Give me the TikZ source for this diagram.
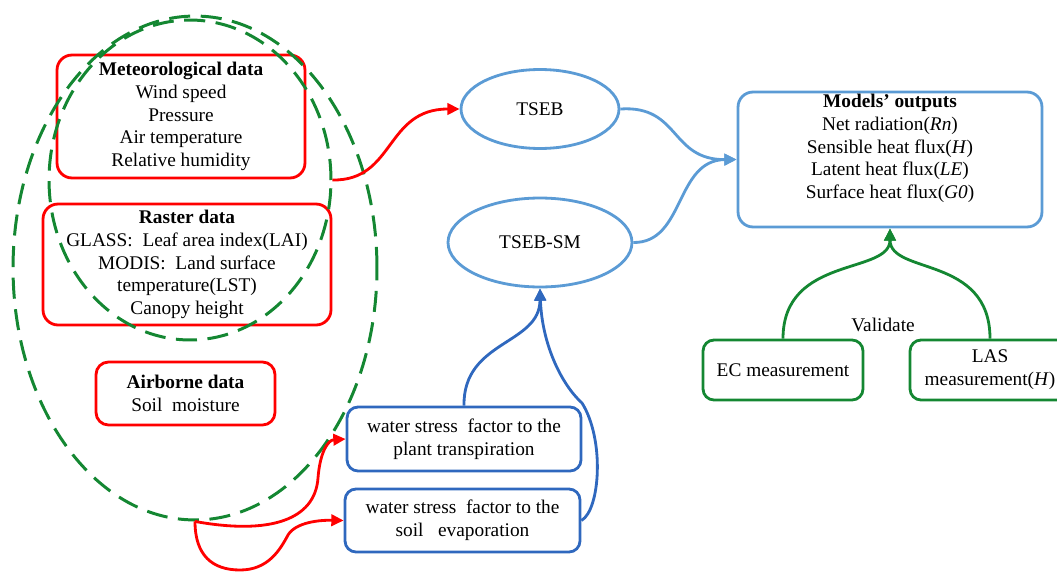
\documentclass[tikz,border=0pt]{standalone}
\usepackage{fontspec}
\setmainfont{Liberation Serif}
\usetikzlibrary{arrows.meta,shapes.geometric}
\definecolor{cred}{RGB}{255,0,0}
\definecolor{cgreen}{RGB}{20,135,50}
\definecolor{cblue}{RGB}{91,155,213}
\definecolor{cdblue}{RGB}{47,104,190}
\begin{document}
\begin{tikzpicture}[x=0.02cm,y=-0.02cm,
  font=\fontsize{11pt}{13pt}\selectfont,
  box/.style={draw, rounded corners=0.3cm, line width=1.6pt, align=center, inner sep=0pt},
  redbox/.style={box, draw=cred},
  bluebox/.style={box, draw=cblue},
  dbluebox/.style={box, draw=cdblue, rounded corners=0.22cm},
  greenbox/.style={box, draw=cgreen, rounded corners=0.22cm},
  bell/.style={draw=cblue, ellipse, line width=1.6pt, inner sep=0pt},
  dashell/.style={draw=cgreen, ellipse, line width=1.7pt, dash pattern=on 12pt off 6pt, inner sep=0pt},
  arr/.style={line width=1.6pt, -{Triangle[length=7pt,width=6.5pt]}},
  redarr/.style={arr, draw=cred},
  bluearr/.style={arr, draw=cblue},
  dbluearr/.style={arr, draw=cdblue},
  greenarr/.style={arr, draw=cgreen}
]
\useasboundingbox (0,0) rectangle (1057,571);
\clip (0,0) rectangle (1057,571);

% left boxes
\node[redbox, minimum width=4.96cm, minimum height=2.46cm] (met) at (181,116.5)
  {\textbf{Meteorological data}\\Wind speed\\Pressure\\Air temperature\\Relative humidity};
\node[redbox, minimum width=5.76cm, minimum height=2.42cm] (ras) at (187,264.5)
  {\textbf{Raster data}\\GLASS:\ \ Leaf area index(LAI)\\MODIS:\ \ Land surface\\temperature(LST)\\Canopy height};
\node[redbox, rounded corners=0.25cm, minimum width=3.58cm, minimum height=1.26cm] (air) at (185.5,393.5)
  {\textbf{Airborne data}\\Soil\ \ moisture};

% dashed ellipses
\node[dashell, minimum width=5.64cm, minimum height=6.4cm] (inner) at (190,180) {};
\node[dashell, minimum width=7.28cm, minimum height=10.08cm] (outer) at (195,268) {};

% models
\node[bell, minimum width=3.16cm, minimum height=1.58cm] (tseb) at (540,109) {TSEB};
\node[bell, minimum width=3.68cm, minimum height=1.78cm] (tsebsm) at (540,242.5) {TSEB-SM};

% outputs
\node[bluebox, minimum width=6.08cm, minimum height=2.7cm] (out) at (890,159.5) {};
\node[align=center, inner sep=0pt] (outtxt) at (890,148.5)
  {\textbf{Models’ outputs}\\Net radiation(\textit{Rn})\\Sensible\ heat flux(\textit{H})\\Latent heat flux(\textit{LE})\\Surface heat flux(\textit{G0})};

% validation
\node[greenbox, minimum width=3.2cm, minimum height=1.2cm] (ec) at (783,370) {EC measurement};
\node[greenbox, minimum width=3.2cm, minimum height=1.2cm] (las) at (990,370) {LAS\\measurement(\textit{H})};
\node[inner sep=0pt] (val) at (883,325) {Validate};

% water stress
\node[dbluebox, minimum width=4.68cm, minimum height=1.28cm] (wsp) at (464,439)
  {water stress\ \ factor to the\\plant transpiration};
\node[dbluebox, minimum width=4.7cm, minimum height=1.26cm] (wse) at (462.5,520.5)
  {water stress\ \ factor to the\\soil\ \ \ evaporation};

% connectors
\draw[redarr] (inner.east) .. controls (395,181) and (385,109) .. (tseb.west);
\draw[bluearr] (tseb.east) .. controls (680,105) and (670,160) .. (out.west);
\draw[bluearr] (tsebsm.east) .. controls (685,243) and (675,160) .. (out.west);
\draw[greenarr] (ec.north) .. controls (783,255) and (890,275) .. (out.south);
\draw[greenarr] (las.north) .. controls (990,255) and (890,275) .. (out.south);
\draw[dbluearr] (wsp.north) .. controls (463,340) and (540,345) .. (tsebsm.south);
\draw[dbluearr] (wse.east) .. controls (600,510) and (605,440) .. (582,403)
  .. controls (562,385) and (542,345) .. (tsebsm.south);
\draw[redarr] (outer.south) .. controls (270,535) and (315,520) .. (318,478)
  .. controls (320,452) and (328,440) .. (wsp.west);
\draw[redarr] (outer.south) .. controls (195,555) and (212,570) .. (240,570)
  .. controls (268,570) and (280,550) .. (288,535)
  .. controls (296,522) and (320,520) .. (wse.west);
\end{tikzpicture}
\end{document}
